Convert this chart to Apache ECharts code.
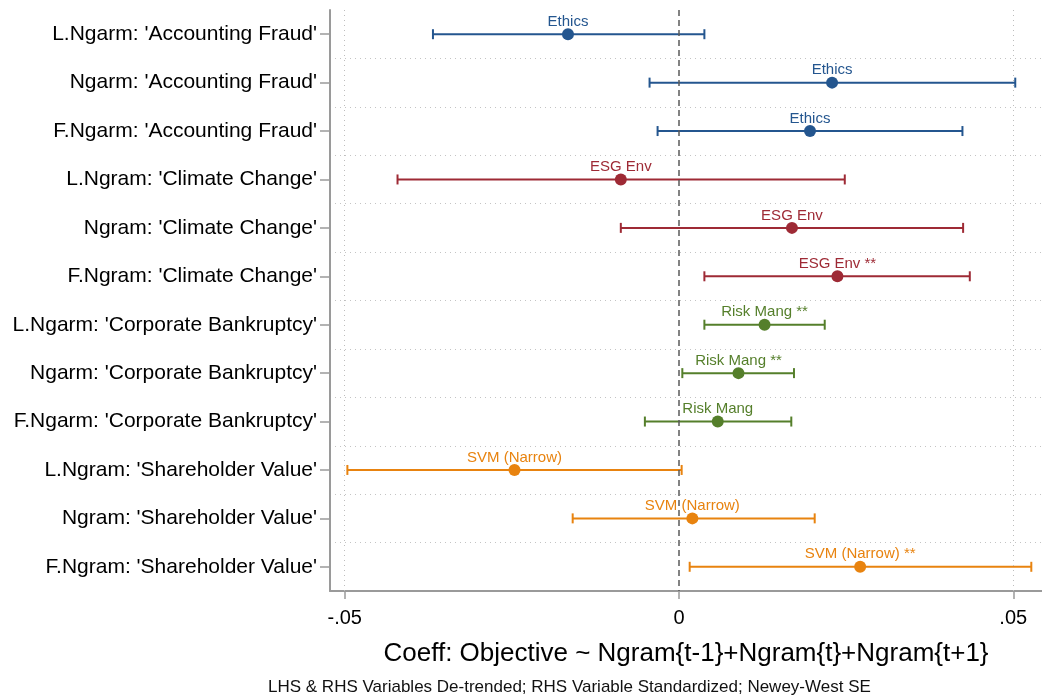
<!DOCTYPE html>
<html>
<head>
<meta charset="utf-8">
<script src="https://cdn.jsdelivr.net/npm/echarts@6/dist/echarts.min.js"></script>
<style>
  html, body { margin: 0; padding: 0; background: #fff; }
  #chart { width: 1042px; height: 700px; }
</style>
</head>
<body>
<div id="chart"></div>
<script>
// rows, top to bottom
const rowLabels = [
  "L.Ngarm: 'Accounting Fraud'",
  "Ngarm: 'Accounting Fraud'",
  "F.Ngarm: 'Accounting Fraud'",
  "L.Ngram: 'Climate Change'",
  "Ngram: 'Climate Change'",
  "F.Ngram: 'Climate Change'",
  "L.Ngarm: 'Corporate Bankruptcy'",
  "Ngarm: 'Corporate Bankruptcy'",
  "F.Ngarm: 'Corporate Bankruptcy'",
  "L.Ngram: 'Shareholder Value'",
  "Ngram: 'Shareholder Value'",
  "F.Ngram: 'Shareholder Value'"
]
const coef  = [-0.0166, 0.0229, 0.0196, -0.0087, 0.0169, 0.0237, 0.0128, 0.0089, 0.0058, -0.0246, 0.0020, 0.0271]
const ciLow = [-0.0368, -0.0044, -0.0032, -0.0421, -0.0087, 0.0038, 0.0038, 0.0005, -0.0051, -0.0496, -0.0159, 0.0016]
const ciHigh = [0.0038, 0.0503, 0.0424, 0.0248, 0.0425, 0.0435, 0.0218, 0.0172, 0.0168, 0.0004, 0.0203, 0.0527]
const tags  = ['Ethics', 'Ethics', 'Ethics', 'ESG Env', 'ESG Env', 'ESG Env',
  'Risk Mang', 'Risk Mang', 'Risk Mang', 'SVM (Narrow)', 'SVM (Narrow)', 'SVM (Narrow)']
const stars = ['', '', '', '', '', '**', '**', '**', '', '', '', '**']
const xTicks = [-0.05, 0, 0.05]

const tagColors = {
  'Ethics': '#24568f',
  'ESG Env': '#9e2a35',
  'Risk Mang': '#557f2b',
  'SVM (Narrow)': '#e8830f'
}

const fmtTick = v => {
  if (v === 0) return '0'
  const s = Math.abs(v).toFixed(2).replace(/^0/, '')
  return (v < 0 ? '-' : '') + s
}

const chart = echarts.init(document.getElementById('chart'))

const option = {
  animation: false,
  textStyle: { fontFamily: 'Liberation Sans, Arial, sans-serif' },
  grid: { left: 330, right: 0, top: 10, bottom: 109 },
  xAxis: {
    type: 'value',
    min: -0.0522,
    max: 0.0543,
    axisLine: { show: true, lineStyle: { color: '#9a9a9a', width: 2 } },
    axisTick: { show: true, customValues: xTicks, length: 8, lineStyle: { color: '#9a9a9a', width: 1.5 } },
    axisLabel: { customValues: xTicks, formatter: fmtTick, fontSize: 20, color: '#000', margin: 17 },
    splitLine: { show: false },
    name: 'Coeff: Objective ~ Ngram{t-1}+Ngram{t}+Ngram{t+1}',
    nameLocation: 'middle',
    nameGap: 50,
    nameTextStyle: { fontSize: 26, color: '#000' }
  },
  yAxis: {
    type: 'category',
    inverse: true,
    data: rowLabels,
    axisLine: { show: true, onZero: false, lineStyle: { color: '#9a9a9a', width: 2 } },
    axisTick: { show: true, alignWithLabel: true, length: 10, lineStyle: { color: '#9a9a9a', width: 1.5 } },
    axisLabel: { fontSize: 21, color: '#000', margin: 13 },
    splitLine: {
      show: true,
      interval: idx => idx > 0,
      lineStyle: { color: '#c4c4c4', type: [1, 4], width: 1 }
    }
  },
  series: [
    {
      type: 'custom',
      silent: true,
      data: rowLabels.map((_, i) => [i, ciLow[i], ciHigh[i]]),
      encode: { x: [1, 2], y: 0 },
      renderItem: (params, api) => {
        const i = api.value(0)
        const p1 = api.coord([api.value(1), i])
        const p2 = api.coord([api.value(2), i])
        const c = tagColors[tags[i]]
        const style = { stroke: c, lineWidth: 2 }
        const h = 5
        return {
          type: 'group',
          children: [
            { type: 'line', shape: { x1: p1[0], y1: p1[1], x2: p2[0], y2: p2[1] }, style },
            { type: 'line', shape: { x1: p1[0], y1: p1[1] - h, x2: p1[0], y2: p1[1] + h }, style },
            { type: 'line', shape: { x1: p2[0], y1: p2[1] - h, x2: p2[0], y2: p2[1] + h }, style }
          ]
        }
      },
      z: 3
    },
    {
      type: 'scatter',
      data: coef.map((v, i) => [v, i]),
      symbol: 'circle',
      symbolSize: 12,
      itemStyle: { color: p => tagColors[tags[p.dataIndex]], opacity: 1 },
      label: {
        show: true,
        position: 'top',
        distance: -1,
        fontSize: 15,
        formatter: p => tags[p.dataIndex] + (stars[p.dataIndex] ? ' ' + stars[p.dataIndex] : ''),
        color: 'inherit'
      },
      markLine: {
        silent: true,
        symbol: 'none',
        label: { show: false },
        data: [
          { xAxis: -0.05, lineStyle: { color: '#bdbdbd', type: [1, 4], width: 1 } },
          { xAxis: 0.05, lineStyle: { color: '#bdbdbd', type: [1, 4], width: 1 } },
          { xAxis: 0, lineStyle: { color: '#5a5a5a', type: [6, 4], width: 1.5 } }
        ]
      },
      z: 4
    }
  ],
  graphic: [
    {
      type: 'text',
      left: 268,
      top: 679,
      style: {
        text: 'LHS & RHS Variables De-trended; RHS Variable Standardized; Newey-West SE',
        fontSize: 17,
        fill: '#111',
        fontFamily: 'Liberation Sans, Arial, sans-serif'
      }
    }
  ]
}

chart.setOption(option)
window.addEventListener('resize', () => chart.resize())
</script>
</body>
</html>
